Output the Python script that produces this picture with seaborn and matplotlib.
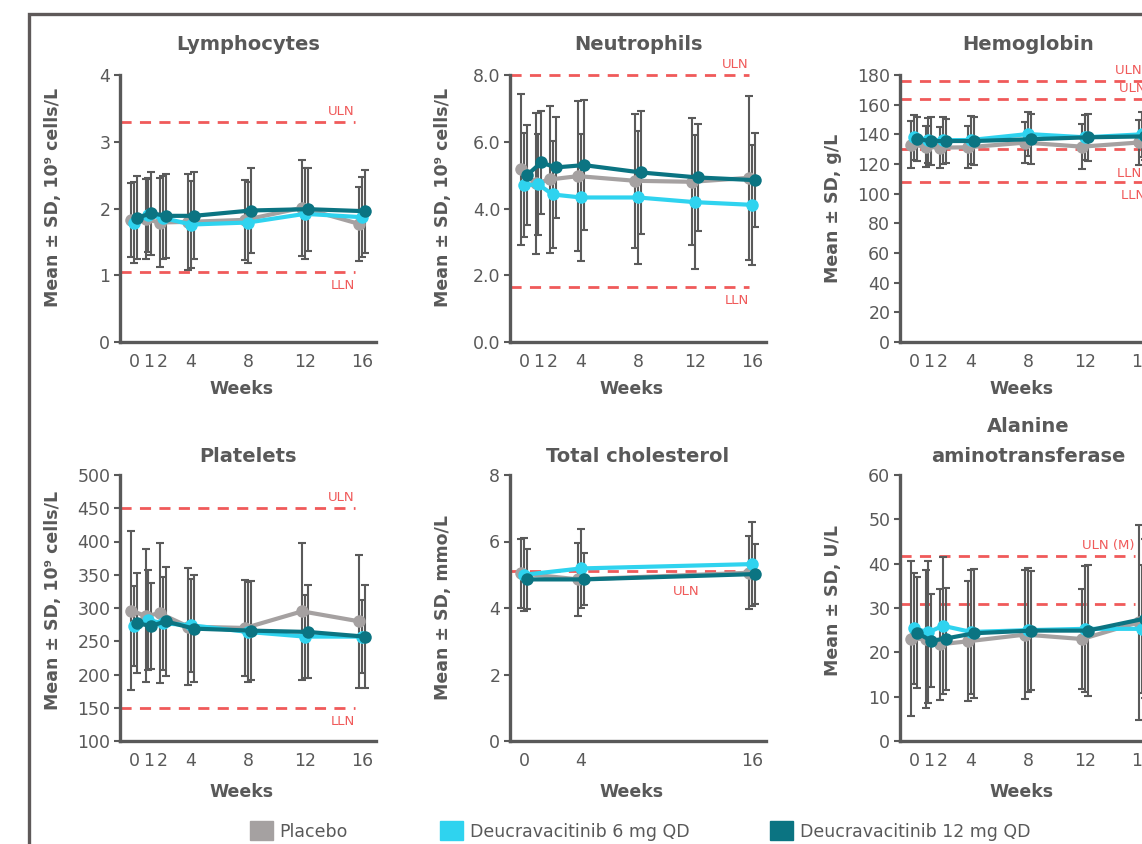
import matplotlib
matplotlib.use('Agg')
import numpy as np
import pandas as pd
import matplotlib.pyplot as plt
import matplotlib.patches as mpatches
import seaborn as sns

groups = ['Placebo', 'Deucravacitinib 6 mg QD', 'Deucravacitinib 12 mg QD']
colors = ['#a5a1a1', '#2fd3ef', '#0b7482']
weeks = [0, 1, 2, 4, 8, 12, 16]
chol_weeks = [0, 4, 16]

# mean values, one row per group (placebo, 6 mg, 12 mg)
lym_mean = [[1.83, 1.84, 1.79, 1.80, 1.83, 2.01, 1.77],
            [1.79, 1.90, 1.86, 1.76, 1.79, 1.92, 1.87],
            [1.86, 1.93, 1.89, 1.89, 1.97, 1.99, 1.96]]
lym_sd = [[0.55, 0.60, 0.66, 0.72, 0.60, 0.72, 0.55],
          [0.60, 0.55, 0.62, 0.65, 0.60, 0.68, 0.60],
          [0.62, 0.62, 0.63, 0.65, 0.63, 0.62, 0.62]]

neu_mean = [[5.17, 4.75, 4.87, 4.97, 4.83, 4.80, 4.92],
            [4.70, 4.72, 4.42, 4.33, 4.33, 4.19, 4.11],
            [5.00, 5.38, 5.23, 5.30, 5.08, 4.93, 4.85]]
neu_sd = [[2.25, 2.10, 2.20, 2.25, 2.00, 1.90, 2.45],
          [1.55, 1.50, 1.60, 1.90, 2.00, 2.00, 1.80],
          [1.50, 1.55, 1.50, 1.95, 1.85, 1.60, 1.40]]

hb_mean = [[133.0, 131.7, 131.0, 131.3, 134.4, 131.7, 134.5],
           [138.0, 136.0, 136.0, 136.2, 140.2, 138.0, 140.0],
           [136.7, 135.5, 135.5, 135.5, 136.7, 138.0, 138.6]]
hb_sd = [[16, 14, 14, 14, 14, 15, 15],
         [15, 15, 16, 16, 15, 15, 15],
         [15, 16, 15, 16, 17, 16, 16]]

plt_mean = [[296, 288, 292, 272, 270, 295, 280],
            [273, 282, 277, 274, 264, 257, 257],
            [277, 273, 280, 269, 266, 264, 257]]
plt_sd = [[120, 100, 105, 88, 72, 103, 100],
          [60, 75, 70, 70, 75, 62, 55],
          [75, 65, 82, 80, 75, 70, 78]]

chol_mean = [[5.04, 4.86, 5.06],
             [5.00, 5.19, 5.32],
             [4.86, 4.86, 5.02]]
chol_sd = [[1.03, 1.10, 1.10],
           [1.10, 1.18, 1.26],
           [0.90, 0.78, 0.90]]

alt_mean = [[23.1, 23.0, 21.8, 22.5, 24.0, 23.0, 26.8],
            [25.4, 24.5, 26.0, 24.6, 25.0, 25.3, 25.3],
            [24.4, 22.6, 23.1, 24.3, 24.9, 24.9, 27.6]]
alt_sd = [[17.5, 15.5, 12.5, 13.5, 14.5, 11.2, 22.0],
          [12.5, 16.0, 15.5, 14.0, 14.0, 14.2, 14.5],
          [12.5, 10.5, 11.5, 14.5, 13.5, 14.8, 18.0]]

# reference limits
lym_refs = [3.3, 1.05]
lym_ref_labels = ['ULN', 'LLN']
neu_refs = [8.0, 1.65]
neu_ref_labels = ['ULN', 'LLN']
hb_refs = [176, 164, 130, 108]
hb_ref_labels = ['ULN (M)', 'ULN (F)', 'LLN (M)', 'LLN (F)']
plt_refs = [450, 150]
plt_ref_labels = ['ULN', 'LLN']
chol_refs = [5.11]
chol_ref_labels = ['ULN']
alt_refs = [41.7, 30.9]
alt_ref_labels = ['ULN (M)', 'ULN (F)']

sns.set_style('ticks')
plt.rcParams['font.family'] = ['DejaVu Sans']
grey = '#595959'
red = '#f05a5a'
offsets = [-0.2, 0.0, 0.2]

W, H = 1142, 844
fig = plt.figure(figsize=(W / 100, H / 100), dpi=100)

# outer frame of the figure panel
fig.patches.append(mpatches.Rectangle((29 / W, -0.2), 1.5, 1.2 - 14 / H,
                                      transform=fig.transFigure, fill=False,
                                      ec='#5e5959', lw=2.4))

lefts = [120, 510, 900]
rows = [(75, 342), (475, 741)]


def add_ax(col, row):
    top, bot = rows[row]
    return fig.add_axes([lefts[col] / W, 1 - bot / H, 256 / W, (bot - top) / H])


def draw(ax, title, x, mean, sd, ylim, yticks, ylabel, refs, ref_labels,
         row, fmt='{:g}', ref_end=15.6, label_x=None, label_below=None,
         extra_drop=None, ylab_y=0.52):
    recs = []
    for g in range(3):
        for w, m, s in zip(x, mean[g], sd[g]):
            recs.append({'group': groups[g], 'week': w + offsets[g], 'mean': m, 'sd': s})
    df = pd.DataFrame(recs)

    for g in range(3):
        d = df[df['group'] == groups[g]]
        ax.errorbar(d['week'], d['mean'], yerr=d['sd'], fmt='none', ecolor='#5a5a5a',
                    elinewidth=1.5, capsize=3, capthick=1.5, zorder=2)

    sns.lineplot(data=df, x='week', y='mean', hue='group', hue_order=groups,
                 palette=colors, marker='o', markersize=9, markeredgewidth=0,
                 linewidth=3, errorbar=None, legend=False, ax=ax, zorder=3)

    for i, (v, lab) in enumerate(zip(refs, ref_labels)):
        ax.hlines(v, -1, ref_end, colors=red, linestyles=(0, (4, 3)), lw=2,
                  zorder=1, clip_on=False)
        below = lab.startswith('LLN') if label_below is None else label_below[i]
        lx = ref_end if label_x is None else label_x
        dy = -5 if below else 3
        if extra_drop is not None:
            dy -= extra_drop[i]
        ax.annotate(lab, (lx, v), xytext=(0, dy), textcoords='offset points',
                    ha='right', va='top' if below else 'bottom', color=red,
                    fontsize=9.5, annotation_clip=False)

    ax.set_xlim(-1, 17)
    ax.set_ylim(*ylim)
    ax.set_xticks(x)
    ax.set_xticklabels([str(w) for w in x])
    ax.set_yticks(yticks)
    ax.set_yticklabels([fmt.format(t) for t in yticks])
    sns.despine(ax=ax)
    for s in ['left', 'bottom']:
        ax.spines[s].set_color(grey)
        ax.spines[s].set_linewidth(2.4)
    ax.tick_params(axis='x', length=0, pad=8, labelsize=12.5, colors=grey)
    ax.tick_params(axis='y', length=4, width=1.5, pad=3, labelsize=12.5, colors=grey)
    pad = 18 if row == 0 else 9
    ax.set_title(title, fontsize=14, fontweight='bold', color=grey, pad=pad,
                 linespacing=1.75)
    ax.set_xlabel('Weeks', fontsize=12.5, fontweight='bold', color=grey)
    ax.set_ylabel(ylabel, fontsize=12.5, fontweight='bold', color=grey)
    top, bot = rows[row]
    ax.xaxis.set_label_coords(0.473, -(38 if row == 0 else 42) / (bot - top))
    ax.yaxis.set_label_coords(-0.225, ylab_y)


cells = 'Mean ± SD, 10⁹ cells/L'
draw(add_ax(0, 0), 'Lymphocytes', weeks, lym_mean, lym_sd, (0, 4), [0, 1, 2, 3, 4],
     cells, lym_refs, lym_ref_labels, 0, ref_end=15.5, ylab_y=0.54)
draw(add_ax(1, 0), 'Neutrophils', weeks, neu_mean, neu_sd, (0, 8), [0, 2, 4, 6, 8],
     cells, neu_refs, neu_ref_labels, 0, fmt='{:.1f}', ref_end=15.8, ylab_y=0.54)
draw(add_ax(2, 0), 'Hemoglobin', weeks, hb_mean, hb_sd, (0, 180), list(range(0, 181, 20)),
     'Mean ± SD, g/L', hb_refs, hb_ref_labels, 0, ref_end=17.8,
     extra_drop=[0, 0, 8, 0], ylab_y=0.5)
draw(add_ax(0, 1), 'Platelets', weeks, plt_mean, plt_sd, (100, 500), list(range(100, 501, 50)),
     cells, plt_refs, plt_ref_labels, 1, ref_end=15.5, ylab_y=0.53)
draw(add_ax(1, 1), 'Total cholesterol', chol_weeks, chol_mean, chol_sd, (0, 8), [0, 2, 4, 6, 8],
     'Mean ± SD, mmo/L', chol_refs, chol_ref_labels, 1, ref_end=15.7,
     label_x=12.3, label_below=[True], extra_drop=[5], ylab_y=0.5)
draw(add_ax(2, 1), 'Alanine\naminotransferase', weeks, alt_mean, alt_sd, (0, 60),
     list(range(0, 61, 10)), 'Mean ± SD, U/L', alt_refs[:1], alt_ref_labels[:1], 1,
     ref_end=15.5, ylab_y=0.53)
# second ALT limit has its label outside the visible area
ax_alt = fig.axes[-1]
ax_alt.hlines(alt_refs[1], -1, 15.5, colors=red, linestyles=(0, (4, 3)), lw=2, zorder=1)

# legend, one entry per treatment group
leg_x = [250, 440, 770]
for name, c, lx in zip(groups, colors, leg_x):
    fig.legend(handles=[mpatches.Patch(color=c, label=name)], loc='center left',
               bbox_to_anchor=(lx / W - 0.006, 1 - 831 / H), frameon=False,
               fontsize=12.5, handlelength=1.3, handleheight=1.3,
               handletextpad=0.4, labelcolor=grey, borderaxespad=0)

fig.savefig('out.png', dpi=100)
